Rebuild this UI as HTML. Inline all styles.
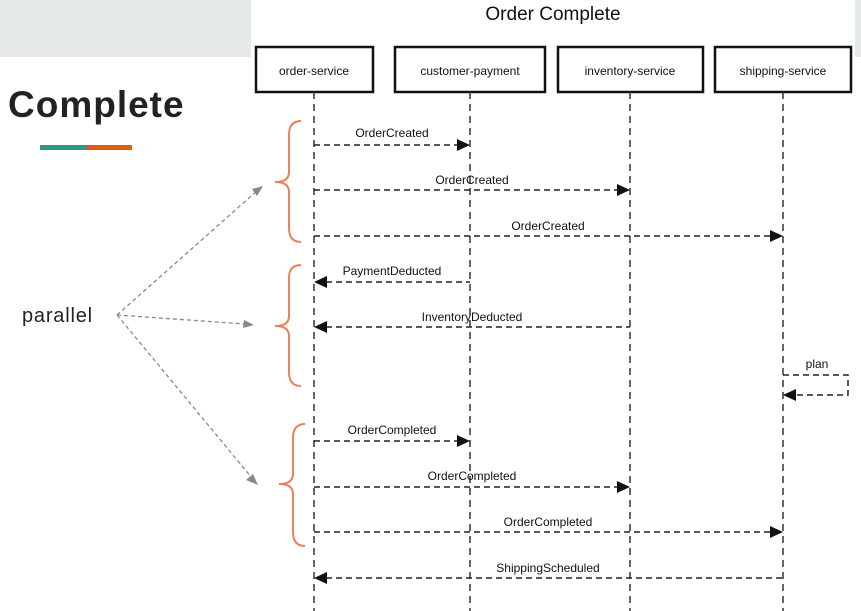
<!DOCTYPE html>
<html><head><style>
body{margin:0;width:861px;height:611px;overflow:hidden;background:#fff;font-family:"Liberation Sans",Arial,sans-serif;}
</style></head><body>
<svg width="861" height="611" viewBox="0 0 861 611" xmlns="http://www.w3.org/2000/svg" style="position:absolute;left:0;top:0">
<rect x="0" y="0" width="251" height="57" fill="#e5e9ea"/>
<rect x="855" y="0" width="6" height="57" fill="#e5e9ea"/>
<text x="8" y="117" font-size="37" font-weight="bold" fill="#222" letter-spacing="1">Complete</text>
<rect x="40" y="145" width="47" height="5" fill="#2a9a86"/>
<rect x="87" y="145" width="45" height="5" fill="#e35a12"/>
<text x="22" y="322" font-size="20" fill="#222" letter-spacing="0.8">parallel</text>
<text x="553" y="20" font-size="19" fill="#111" text-anchor="middle">Order Complete</text>
<g fill="none" stroke="#111" stroke-width="2.5">
<rect x="256" y="47" width="117" height="45"/>
<rect x="395" y="47" width="150" height="45"/>
<rect x="558" y="47" width="145" height="45"/>
<rect x="715" y="47" width="136" height="45"/>
</g>
<g font-size="12" fill="#111" text-anchor="middle">
<text x="314" y="75">order-service</text>
<text x="470" y="75">customer-payment</text>
<text x="630" y="75">inventory-service</text>
<text x="783" y="75">shipping-service</text>
</g>
<g stroke="#333" stroke-width="1.5" stroke-dasharray="7,5">
<line x1="314" y1="92" x2="314" y2="611"/>
<line x1="470" y1="92" x2="470" y2="611"/>
<line x1="630" y1="92" x2="630" y2="611"/>
<line x1="783" y1="92" x2="783" y2="611"/>
</g>
<g stroke="#222" stroke-width="1.5" stroke-dasharray="6,4" fill="none">
<line x1="314" y1="145" x2="458" y2="145"/>
<line x1="314" y1="190" x2="618" y2="190"/>
<line x1="314" y1="236" x2="771" y2="236"/>
<line x1="326" y1="282" x2="470" y2="282"/>
<line x1="326" y1="327" x2="630" y2="327"/>
<polyline points="783,375 848,375 848,395 795,395"/>
<line x1="314" y1="441" x2="458" y2="441"/>
<line x1="314" y1="487" x2="618" y2="487"/>
<line x1="314" y1="532" x2="771" y2="532"/>
<line x1="326" y1="578" x2="783" y2="578"/>
</g>
<g fill="#111">
<polygon points="470,145 457,139 457,151"/>
<polygon points="630,190 617,184 617,196"/>
<polygon points="783,236 770,230 770,242"/>
<polygon points="314,282 327,276 327,288"/>
<polygon points="314,327 327,321 327,333"/>
<polygon points="783,395 796,389 796,401"/>
<polygon points="470,441 457,435 457,447"/>
<polygon points="630,487 617,481 617,493"/>
<polygon points="783,532 770,526 770,538"/>
<polygon points="314,578 327,572 327,584"/>
</g>
<g font-size="12" fill="#111" text-anchor="middle">
<text x="392" y="137">OrderCreated</text>
<text x="472" y="184">OrderCreated</text>
<text x="548" y="230">OrderCreated</text>
<text x="392" y="275">PaymentDeducted</text>
<text x="472" y="321">InventoryDeducted</text>
<text x="817" y="368">plan</text>
<text x="392" y="434">OrderCompleted</text>
<text x="472" y="480">OrderCompleted</text>
<text x="548" y="526">OrderCompleted</text>
<text x="548" y="572">ShippingScheduled</text>
</g>
<g fill="none" stroke="#e8825e" stroke-width="2">
<path d="M301,121 Q289,121 289,135 L289,172 Q289,182 275,182 Q289,182 289,192 L289,228 Q289,242 301,242"/>
<path d="M301,265 Q289,265 289,278 L289,316 Q289,326 275,326 Q289,326 289,336 L289,372 Q289,386 301,386"/>
<path d="M305,424 Q293,424 293,438 L293,474 Q293,484 279,484 Q293,484 293,494 L293,532 Q293,546 305,546"/>
</g>
<g stroke="#888" stroke-width="1.3" stroke-dasharray="4,3" fill="#888">
<line x1="117" y1="315" x2="258" y2="190"/>
<line x1="117" y1="315" x2="245" y2="324"/>
<line x1="117" y1="315" x2="252" y2="478"/>
</g>
<g fill="#888">
<polygon points="263,186 252,189 257,196"/>
<polygon points="254,325 244,320 243,328"/>
<polygon points="258,485 253,474 246,480"/>
</g>
</svg>
</body></html>
